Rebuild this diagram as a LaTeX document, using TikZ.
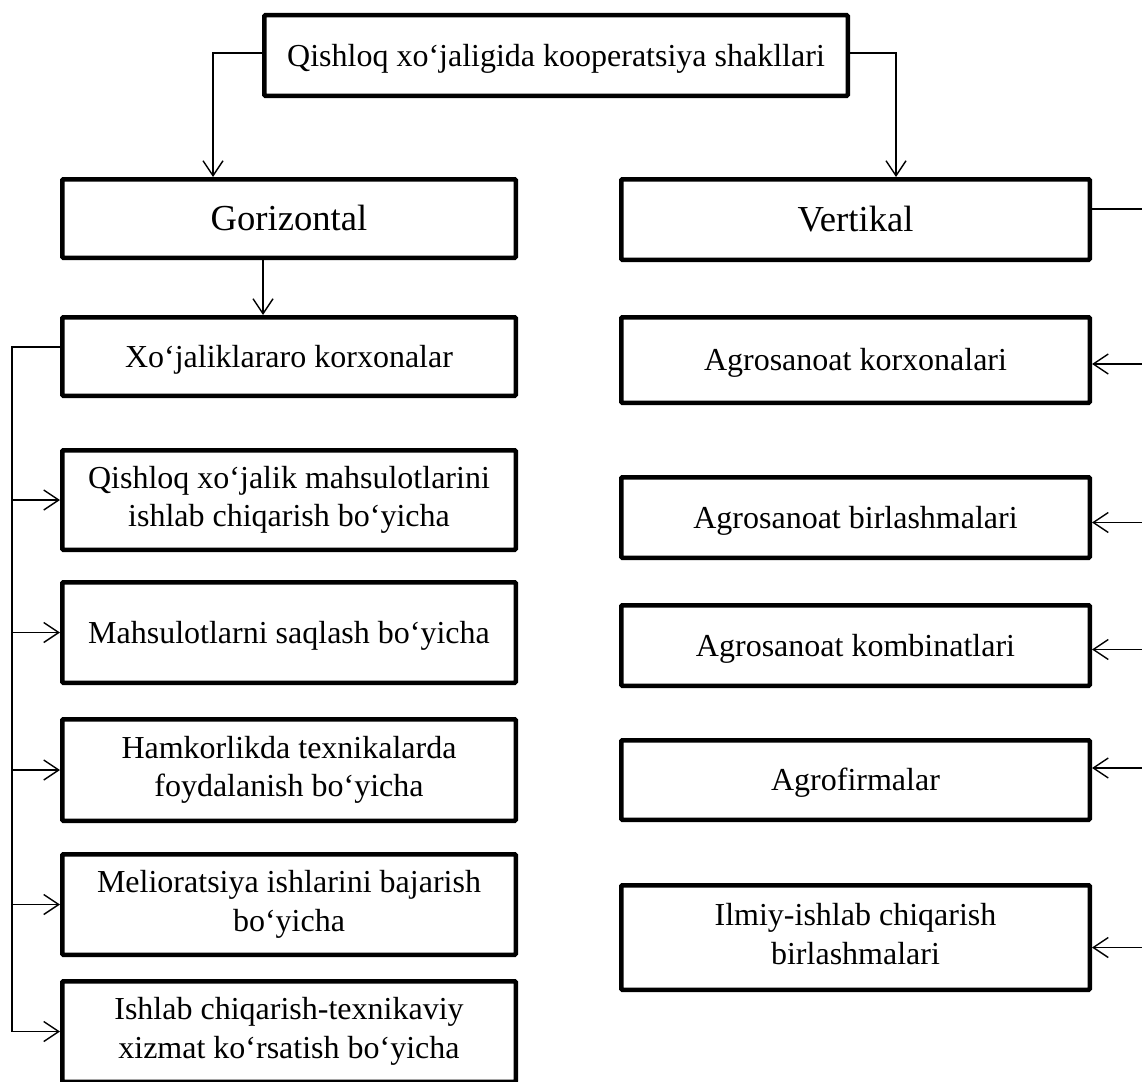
\documentclass[tikz,border=0pt]{standalone}
\usepackage{fontspec}
\setmainfont{Liberation Serif}
\usetikzlibrary{arrows.meta}
\newcommand\wstrut{\rule[-0.216em]{0pt}{1.107em}}
\begin{document}
\begin{tikzpicture}[x=1pt,y=-1pt,
  box/.style={draw, line width=4.5pt, rounded corners=1pt, align=center, inner sep=0pt,
    font=\fontsize{32}{38.5}\selectfont,
    execute at begin node=\wstrut, execute at end node=\wstrut},
  lbox/.style={box, minimum width=453.5pt},
  rbox/.style={box, minimum width=468.5pt},
  big/.style={font=\fontsize{36.6}{44}\selectfont},
  conn/.style={line width=1.4pt},
  arr/.style={conn, -{Straight Barb[length=15pt,width=20pt,line width=1.4pt]}}
]
\useasboundingbox (0,0) rectangle (1142,1081);
\fill[white] (0,0) rectangle (1142,1081);

% top
\node[box, minimum width=583.5pt, minimum height=80.5pt] (T) at (556,55.5) {Qishloq xo‘jaligida kooperatsiya shakllari};

% second level
\node[lbox, big, minimum height=78.5pt] (G) at (289,218.5) {Gorizontal};
\node[rbox, big, minimum height=80.5pt] (V) at (855.5,219.5) {Vertikal};

% left column
\node[lbox, minimum height=78.5pt] (X) at (289,356.5) {Xo‘jaliklararo korxonalar};
\node[lbox, minimum height=99.5pt] (Q) at (289,500) {Qishloq xo‘jalik mahsulotlarini\\ishlab chiqarish bo‘yicha};
\node[lbox, minimum height=100.5pt] (M) at (289,632.5) {Mahsulotlarni saqlash bo‘yicha};
\node[lbox, minimum height=101.5pt] (H) at (289,770) {Hamkorlikda texnikalarda\\foydalanish bo‘yicha};
\node[lbox, minimum height=100.5pt] (L) at (289,904.5) {Melioratsiya ishlarini bajarish\\bo‘yicha};
\node[lbox, minimum height=100.5pt] (I) at (289,1031.5) {Ishlab chiqarish-texnikaviy\\xizmat ko‘rsatish bo‘yicha};

% right column
\node[rbox, minimum height=85.5pt] (A1) at (855.5,360) {Agrosanoat korxonalari};
\node[rbox, minimum height=80.5pt] (A2) at (855.5,517.5) {Agrosanoat birlashmalari};
\node[rbox, minimum height=80.5pt] (A3) at (855.5,645.5) {Agrosanoat kombinatlari};
\node[rbox, minimum height=79.5pt] (A4) at (855.5,780) {Agrofirmalar};
\node[rbox, minimum height=104.5pt] (A5) at (855.5,937.5) {Ilmiy-ishlab chiqarish\\birlashmalari};

% coordinates of the buses
\coordinate (vr) at (1150,209);
\coordinate (lb1) at (12,347);
\coordinate (lb2) at (12,1032);
\coordinate (rx) at (1150,0);

% top connectors
\draw[arr] ([yshift=2.5pt]T.west) -| ([xshift=153pt]G.north west);
\draw[arr] ([yshift=2.5pt]T.east) -| ([xshift=277pt]V.north west);
\draw[arr] ([xshift=203pt]G.south west) -- ([xshift=203pt]X.north west);

% left bus
\draw[conn] (X.west |- lb1) -- (lb1) -- (lb2);
\foreach \n in {Q,M,H,L,I}{
  \draw[arr] (\n.west -| lb1) -- (\n.west);
}

% right side
\draw[conn] (V.east |- vr) -- (vr);
\draw[arr] ([yshift=-4pt]A1.east -| rx) -- ([yshift=-4pt]A1.east);
\draw[arr] ([yshift=-5pt]A2.east -| rx) -- ([yshift=-5pt]A2.east);
\draw[arr] ([yshift=-4pt]A3.east -| rx) -- ([yshift=-4pt]A3.east);
\draw[arr] ([yshift=12pt]A4.east -| rx) -- ([yshift=12pt]A4.east);
\draw[arr] ([yshift=-10pt]A5.east -| rx) -- ([yshift=-10pt]A5.east);
\end{tikzpicture}
\end{document}
